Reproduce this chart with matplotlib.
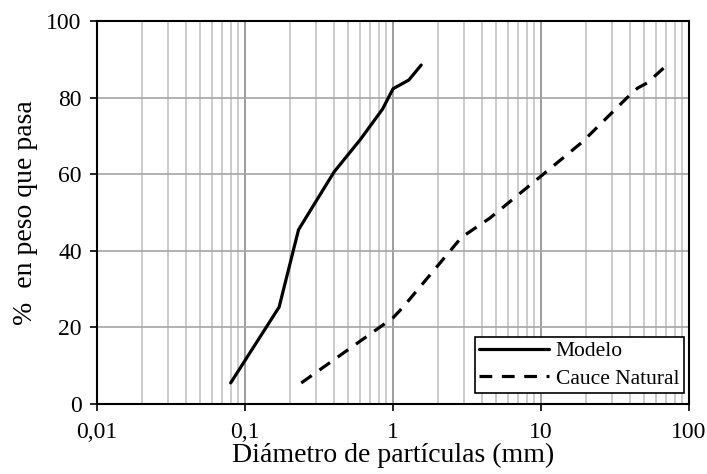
import matplotlib
matplotlib.use("Agg")
import matplotlib.pyplot as plt
from matplotlib.ticker import FixedLocator, FuncFormatter, LogLocator, NullFormatter

# Datos
modelo_d = [0.08, 0.17, 0.23, 0.40, 0.60, 0.85, 1.0, 1.28, 1.55]
modelo_p = [5.5, 25.3, 45.5, 60.6, 69.0, 77.0, 82.3, 84.6, 88.5]

cauce_d = [0.24, 1.0, 1.17, 2.9, 4.5, 10.0, 19.0, 38.0, 45.0, 52.0, 71.0]
cauce_p = [5.5, 22.5, 25.3, 43.5, 48.5, 59.5, 68.4, 79.9, 82.5, 83.8, 88.5]

x_ticks = [0.01, 0.1, 1, 10, 100]
x_labels = ["0,01", "0,1", "1", "10", "100"]
y_ticks = [0, 20, 40, 60, 80, 100]

plt.rcParams['font.family'] = ['Liberation Serif', 'DejaVu Serif']

fig = plt.figure(figsize=(7.07, 4.74), dpi=100)
ax = fig.add_axes([97 / 707, 1 - 404 / 474, (689 - 97) / 707, (404 - 21) / 474])

ax.plot(modelo_d, modelo_p, color="black", lw=2.3, label="Modelo",
        solid_capstyle="round", solid_joinstyle="round")
ax.plot(cauce_d, cauce_p, color="black", lw=2.3, ls=(0, (4.0, 3.0)), label="Cauce Natural",
        dash_capstyle="butt")

ax.set_xscale("log")
ax.set_xlim(0.01, 100)
ax.set_ylim(0, 100)
ax.xaxis.set_major_locator(FixedLocator(x_ticks))
ax.xaxis.set_major_formatter(FuncFormatter(lambda v, p: x_labels[x_ticks.index(v)] if v in x_ticks else ""))
ax.xaxis.set_minor_locator(LogLocator(base=10, subs=range(2, 10)))
ax.xaxis.set_minor_formatter(NullFormatter())
ax.set_yticks(y_ticks)

ax.grid(True, which="major", axis="x", color="#8c8c8c", lw=1.2)
ax.grid(True, which="minor", axis="x", color="#c4c4c4", lw=1.2)
ax.grid(True, which="major", axis="y", color="#a6a6a6", lw=1.2)
ax.set_axisbelow(True)

ax.tick_params(axis="both", which="major", labelsize=17, length=5, width=1.2, direction="out")
ax.tick_params(axis="y", pad=6)
ax.tick_params(axis="x", pad=8)
ax.tick_params(axis="x", which="minor", length=0)
for s in ax.spines.values():
    s.set_color("black")
    s.set_linewidth(1.5)

ax.set_xlabel("Diámetro de partículas (mm)", fontsize=20, labelpad=0)
ax.set_ylabel("%  en peso que pasa", fontsize=20, labelpad=6)

leg = ax.legend(loc="lower right", bbox_to_anchor=(0.991, 0.028), borderaxespad=0,
                fontsize=15.5, frameon=True, fancybox=False,
                edgecolor="black", framealpha=1, handlelength=3.25, handletextpad=0.3,
                borderpad=0.2, labelspacing=0.35)
leg.get_frame().set_linewidth(1.2)

fig.savefig("out.png", dpi=100)
